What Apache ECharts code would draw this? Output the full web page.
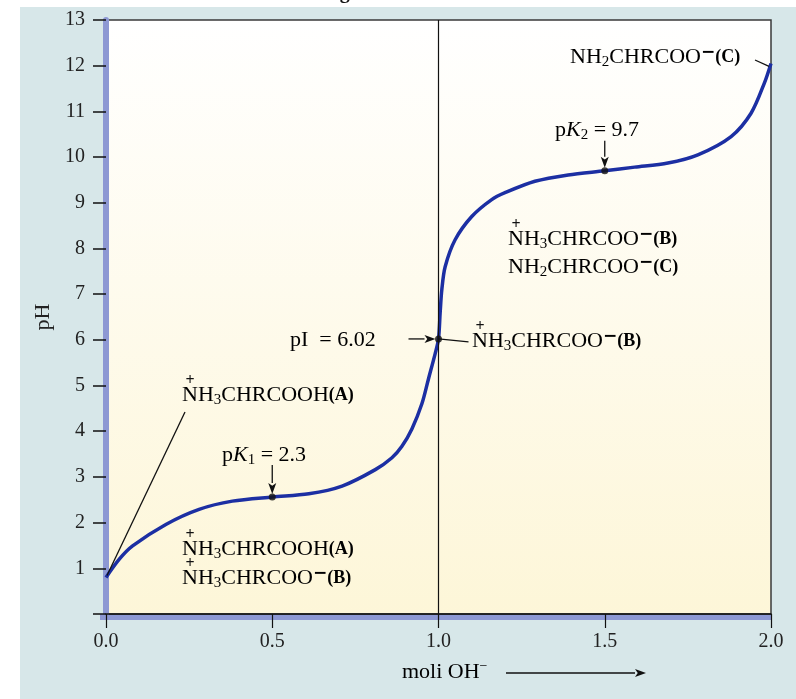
<!DOCTYPE html>
<html>
<head>
    <meta charset="utf-8">
    <title>pH - moli OH-</title>
    <script src="https://cdn.jsdelivr.net/npm/echarts@6/dist/echarts.min.js"></script>
    <style type="text/css">
        * {
            margin: 0;
            padding: 0;
        }

        body {
            background: #fff;
            overflow: hidden;
        }
    </style>
</head>
<body>
<div id="main" style="width: 796px;height: 699px;"></div>
<script type="text/javascript">
    // curba de titrare
    var molOH = [0.00, 0.04, 0.08, 0.18, 0.28, 0.38, 0.50, 0.61, 0.71, 0.81, 0.86, 0.89, 0.92, 0.95, 0.97, 0.99, 1.00,
        1.005, 1.01, 1.02, 1.05, 1.10, 1.16, 1.20, 1.29, 1.39, 1.50, 1.59, 1.69, 1.78, 1.88, 1.94, 1.98, 2.00];
    var pH = [0.80, 1.20, 1.49, 1.96, 2.29, 2.47, 2.56, 2.63, 2.80, 3.16, 3.42, 3.67, 4.05, 4.60, 5.15, 5.70, 6.02,
        6.60, 7.10, 7.60, 8.19, 8.70, 9.07, 9.22, 9.47, 9.61, 9.70, 9.78, 9.87, 10.05, 10.45, 10.96, 11.62, 12.05];
    // pK1, pI, pK2
    var keyX = [0.5, 1.0, 1.5];
    var keyPH = [2.56, 6.02, 9.70];

    var serif = 'Liberation Serif';
    var rich = {
        n: {fontSize: 22, fontFamily: serif, lineHeight: 26, color: '#111'},
        i: {fontSize: 22, fontFamily: serif, fontStyle: 'italic', lineHeight: 26, color: '#111'},
        s: {fontSize: 15, fontFamily: serif, lineHeight: 12, verticalAlign: 'bottom', color: '#111'},
        m: {fontSize: 17, fontFamily: 'DejaVu Sans', fontWeight: 'bold', lineHeight: 10, verticalAlign: 'top', color: '#111'},
        sm: {fontSize: 14, fontFamily: serif, lineHeight: 10, verticalAlign: 'top', color: '#111'},
        b: {fontSize: 18, fontFamily: serif, fontWeight: 'bold', lineHeight: 26, color: '#111'}
    };

    var curve = [];
    for (var i = 0; i < molOH.length; i++) {
        curve.push([molOH[i], pH[i]]);
    }
    var dots = [];
    for (var k = 0; k < keyX.length; k++) {
        dots.push([keyX[k], keyPH[k]]);
    }

    var myChart = echarts.init(document.getElementById('main'));
    var option = {
        animation: false,
        grid: {
            left: 106,
            right: 25,
            top: 20,
            bottom: 85,
            show: true,
            borderColor: '#3a3a3a',
            borderWidth: 1.5,
            backgroundColor: new echarts.graphic.LinearGradient(0, 0, 0, 1, [
                {offset: 0, color: '#ffffff'},
                {offset: 1, color: '#fdf6d8'}
            ])
        },
        xAxis: {
            type: 'value',
            min: 0,
            max: 2,
            interval: 0.5,
            splitLine: {show: false},
            axisLine: {lineStyle: {color: '#111', width: 1.5}},
            axisTick: {length: 14, lineStyle: {color: '#111', width: 1.2}},
            axisLabel: {
                margin: 18,
                color: '#222',
                fontSize: 20,
                fontFamily: serif,
                formatter: function (v) {
                    return v.toFixed(1);
                }
            }
        },
        yAxis: {
            type: 'value',
            min: 0,
            max: 13,
            interval: 1,
            offset: 3,
            name: 'pH',
            nameLocation: 'middle',
            nameGap: 39,
            nameTextStyle: {fontSize: 22, fontFamily: serif, color: '#222'},
            splitLine: {show: false},
            axisLine: {show: true, lineStyle: {color: '#8d98d3', width: 6}},
            axisTick: {length: 13, lineStyle: {color: '#111', width: 1.5}},
            axisLabel: {
                margin: 18,
                color: '#222',
                fontSize: 20,
                fontFamily: serif,
                formatter: function (v) {
                    return v === 0 ? '' : v;
                }
            }
        },
        series: [{
            type: 'line',
            data: curve,
            smooth: 0.3,
            symbol: 'none',
            lineStyle: {color: '#1c2fa3', width: 3.5},
            z: 3,
            markLine: {
                silent: true,
                symbol: 'none',
                label: {show: false},
                lineStyle: {color: '#111', width: 1.2, type: 'solid'},
                data: [{xAxis: 1}]
            }
        }, {
            type: 'scatter',
            data: dots,
            symbol: 'circle',
            symbolSize: 7,
            itemStyle: {color: '#111'},
            z: 4
        }]
    };
    myChart.setOption(option);

    // adnotari
    function text(x, y, str, plus) {
        var els = [{
            type: 'text',
            x: x,
            y: y,
            z: 10,
            style: {text: str, rich: rich, verticalAlign: 'middle', align: 'left'}
        }];
        if (plus) {
            els.push({
                type: 'text',
                x: x + 8,
                y: y - 14,
                z: 10,
                style: {text: '+', fontSize: 16, fontFamily: serif, fill: '#111', fontWeight: 'bold', align: 'center', verticalAlign: 'middle'}
            });
        }
        return els;
    }

    function seg(x1, y1, x2, y2) {
        return {
            type: 'line',
            z: 10,
            shape: {x1: x1, y1: y1, x2: x2, y2: y2},
            style: {stroke: '#111', lineWidth: 1.3}
        };
    }

    function arrow(x1, y1, x2, y2) {
        var a = Math.atan2(y2 - y1, x2 - x1);
        var len = 11, w = 4;
        var bx = x2 - len * Math.cos(a), by = y2 - len * Math.sin(a);
        return [seg(x1, y1, bx, by), {
            type: 'polygon',
            z: 10,
            shape: {
                points: [[x2, y2],
                    [bx + w * Math.sin(a), by - w * Math.cos(a)],
                    [bx + (len * 0.25) * Math.cos(a), by + (len * 0.25) * Math.sin(a)],
                    [bx - w * Math.sin(a), by + w * Math.cos(a)]]
            },
            style: {fill: '#111'}
        }];
    }

    var pk1 = myChart.convertToPixel({gridIndex: 0}, dots[0]);
    var pi = myChart.convertToPixel({gridIndex: 0}, dots[1]);
    var pk2 = myChart.convertToPixel({gridIndex: 0}, dots[2]);
    var start = myChart.convertToPixel({gridIndex: 0}, curve[0]);
    var end = myChart.convertToPixel({gridIndex: 0}, curve[curve.length - 1]);

    var g = [{
        type: 'rect',
        z: -10,
        shape: {x: 20, y: 7, width: 776, height: 692},
        style: {fill: '#d7e7e9'}
    }, {
        type: 'rect',
        z: -1,
        shape: {x: 100, y: 614, width: end[0] - 100, height: 6},
        style: {fill: '#8d98d3'}
    }, {
        type: 'text',
        x: 322,
        y: -17,
        style: {text: 'Fig', fontSize: 20, fontWeight: 'bold', fontFamily: serif, fill: '#111'}
    }];

    g = g.concat(text(570, 57, '{n|NH}{s|2}{n|CHRCOO}{m|−}{b|(C)}'));
    g.push(seg(755, 60, end[0] - 2, end[1] + 3));
    g = g.concat(text(555, 130, '{n|p}{i|K}{s|2}{n| = 9.7}'));
    g = g.concat(arrow(pk2[0], pk2[1] - 30, pk2[0], pk2[1] - 3));
    g = g.concat(text(508, 239, '{n|NH}{s|3}{n|CHRCOO}{m|−}{b|(B)}', true));
    g = g.concat(text(508, 267, '{n|NH}{s|2}{n|CHRCOO}{m|−}{b|(C)}'));
    g = g.concat(text(290, 340, '{n|pI  = 6.02}'));
    g = g.concat(arrow(pi[0] - 30, pi[1], pi[0] - 3, pi[1]));
    g.push(seg(pi[0], pi[1], pi[0] + 30, pi[1] + 3));
    g = g.concat(text(472, 341, '{n|NH}{s|3}{n|CHRCOO}{m|−}{b|(B)}', true));
    g = g.concat(text(182, 395, '{n|NH}{s|3}{n|CHRCOOH}{b|(A)}', true));
    g.push(seg(185, 412, start[0] + 1, start[1] - 2));
    g = g.concat(text(222, 455, '{n|p}{i|K}{s|1}{n| = 2.3}'));
    g = g.concat(arrow(pk1[0], pk1[1] - 32, pk1[0], pk1[1] - 3));
    g = g.concat(text(182, 549, '{n|NH}{s|3}{n|CHRCOOH}{b|(A)}', true));
    g = g.concat(text(182, 578, '{n|NH}{s|3}{n|CHRCOO}{m|−}{b|(B)}', true));
    g = g.concat(text(402, 672, '{n|moli OH}{sm|−}'));
    g = g.concat(arrow(506, 673, 646, 673));

    myChart.setOption({graphic: g});
</script>
</body>
</html>
